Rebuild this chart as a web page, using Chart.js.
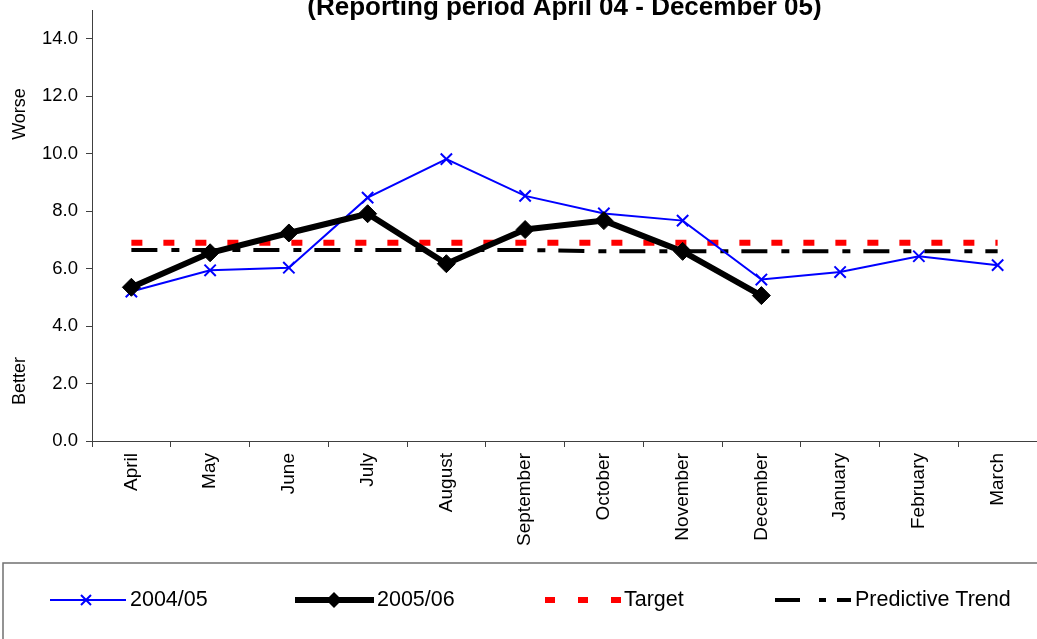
<!DOCTYPE html>
<html>
<head>
<meta charset="utf-8">
<script src="https://cdn.jsdelivr.net/npm/chart.js@4.4.0/dist/chart.umd.min.js"></script>
<style>
html, body { margin: 0; padding: 0; background: #fff; overflow: hidden; }
#wrap { width: 1047px; height: 640px; position: relative; }
</style>
</head>
<body>
<div id="wrap"><canvas id="myChart"></canvas></div>
<script>
// data
const months = ['April', 'May', 'June', 'July', 'August', 'September', 'October', 'November', 'December', 'January', 'February', 'March'];
const values0405 = [5.2, 5.94, 6.03, 8.47, 9.81, 8.53, 7.92, 7.67, 5.62, 5.88, 6.43, 6.12];
const values0506 = [5.35, 6.55, 7.24, 7.91, 6.17, 7.36, 7.67, 6.6, 5.06, null, null, null];
const targetValues = [6.9, 6.9, 6.9, 6.9, 6.9, 6.9, 6.9, 6.9, 6.9, 6.9, 6.9, 6.9];
const trendValues = [6.65, 6.65, 6.65, 6.65, 6.65, 6.65, 6.6, 6.6, 6.6, 6.6, 6.6, 6.6];
const seriesNames = ['2004/05', '2005/06', 'Target', 'Predictive Trend'];
const yTicks = [0, 2, 4, 6, 8, 10, 12, 14];
const chartTitle = '(Reporting period April 04 - December 05)';
const axisTopText = 'Worse';
const axisBottomText = 'Better';

const FONT = '"Liberation Sans", Arial, sans-serif';
Chart.defaults.font.family = FONT;
Chart.defaults.color = '#000';

// legend drawn by hand, like the excel one: sample line then text
const drawLegend = (ctx) => {
    const y = 600;
    ctx.save();
    ctx.strokeStyle = '#707070';
    ctx.lineWidth = 1.5;
    ctx.strokeRect(3, 563, 1100, 140);

    // 2004/05
    ctx.strokeStyle = '#0000FF';
    ctx.lineWidth = 2;
    ctx.beginPath(); ctx.moveTo(50, y); ctx.lineTo(126, y); ctx.stroke();
    ctx.beginPath();
    ctx.moveTo(81, y - 5); ctx.lineTo(91, y + 5);
    ctx.moveTo(91, y - 5); ctx.lineTo(81, y + 5);
    ctx.stroke();

    // 2005/06
    ctx.strokeStyle = '#000';
    ctx.fillStyle = '#000';
    ctx.lineWidth = 6;
    ctx.beginPath(); ctx.moveTo(295, y); ctx.lineTo(374, y); ctx.stroke();
    ctx.beginPath();
    ctx.moveTo(326, y); ctx.lineTo(334, y - 8); ctx.lineTo(342, y); ctx.lineTo(334, y + 8);
    ctx.closePath(); ctx.fill();

    // Target
    ctx.fillStyle = '#FF0000';
    [545, 578, 611].forEach(x => ctx.fillRect(x, y - 3, 10, 6));

    // Predictive Trend
    ctx.fillStyle = '#000';
    ctx.fillRect(775, y - 2, 25, 4);
    ctx.fillRect(819, y - 2, 7, 4);
    ctx.fillRect(837, y - 2, 14, 4);

    ctx.fillStyle = '#000';
    ctx.font = '21.5px ' + FONT;
    ctx.textAlign = 'left';
    ctx.textBaseline = 'middle';
    [130, 377, 624, 855].forEach((x, i) => ctx.fillText(seriesNames[i], x, y));
    ctx.restore();
};

const extraText = {
    id: 'extraText',
    afterDraw(chart) {
        const {ctx, chartArea} = chart;
        ctx.save();
        ctx.fillStyle = '#000';
        ctx.font = 'bold 26px ' + FONT;
        ctx.textAlign = 'center';
        ctx.textBaseline = 'alphabetic';
        ctx.fillText(chartTitle, (chartArea.left + chartArea.right) / 2, 15);
        ctx.font = '18px ' + FONT;
        ctx.textBaseline = 'middle';
        [[axisTopText, 114], [axisBottomText, 381]].forEach(([t, yy]) => {
            ctx.save();
            ctx.translate(20, yy);
            ctx.rotate(-Math.PI / 2);
            ctx.fillText(t, 0, 0);
            ctx.restore();
        });
        ctx.restore();
        drawLegend(ctx);
    }
};

const ctx = document.getElementById('myChart');
new Chart(ctx, {
    type: 'line',
    data: {
        labels: months,
        datasets: [{
            label: seriesNames[0],
            data: values0405,
            borderColor: '#0000FF',
            backgroundColor: '#0000FF',
            borderWidth: 2,
            pointStyle: 'crossRot',
            pointRadius: 8,
            pointBorderWidth: 2,
            order: 1
        }, {
            label: seriesNames[1],
            data: values0506,
            borderColor: '#000',
            backgroundColor: '#000',
            borderWidth: 6,
            pointStyle: 'rectRot',
            pointRadius: 9,
            pointBorderWidth: 1,
            order: 0
        }, {
            label: seriesNames[2],
            data: targetValues,
            borderColor: '#FF0000',
            borderWidth: 6,
            borderDash: [11, 21],
            borderCapStyle: 'butt',
            pointRadius: 0,
            order: 2
        }, {
            label: seriesNames[3],
            data: trendValues,
            borderColor: '#000',
            borderWidth: 4,
            borderDash: [26, 14, 8, 13],
            borderCapStyle: 'butt',
            pointRadius: 0,
            order: 3
        }]
    },
    options: {
        responsive: true,
        maintainAspectRatio: false,
        animation: false,
        elements: { line: { tension: 0 } },
        layout: { padding: { top: 5, left: 12, right: 0, bottom: 79 } },
        plugins: {
            title: { display: false },
            tooltip: { enabled: false },
            legend: { display: false }
        },
        scales: {
            x: {
                offset: true,
                grid: {
                    offset: true,
                    drawOnChartArea: false,
                    drawTicks: true,
                    tickLength: 6,
                    color: '#404040'
                },
                border: { display: true, color: '#404040', width: 1 },
                ticks: {
                    autoSkip: false,
                    minRotation: 90,
                    maxRotation: 90,
                    padding: 6,
                    color: '#000',
                    font: { size: 19 }
                },
                afterFit: (scale) => {
                    scale.height = 120;
                    scale.paddingLeft = 0;
                    scale.paddingRight = 0;
                }
            },
            y: {
                min: 0,
                max: 15,
                bounds: 'data',
                grid: {
                    drawOnChartArea: false,
                    drawTicks: true,
                    tickLength: 6,
                    color: '#404040'
                },
                border: { display: true, color: '#404040', width: 1 },
                afterBuildTicks: (scale) => {
                    scale.ticks = yTicks.map(v => ({ value: v }));
                },
                ticks: {
                    stepSize: 2,
                    padding: 8,
                    color: '#000',
                    font: { size: 18.5 },
                    callback: (v) => Number(v).toFixed(1)
                },
                afterFit: (scale) => {
                    scale.width = 80;
                    scale.paddingTop = 0;
                    scale.paddingBottom = 0;
                }
            }
        }
    },
    plugins: [extraText]
});
</script>
</body>
</html>
